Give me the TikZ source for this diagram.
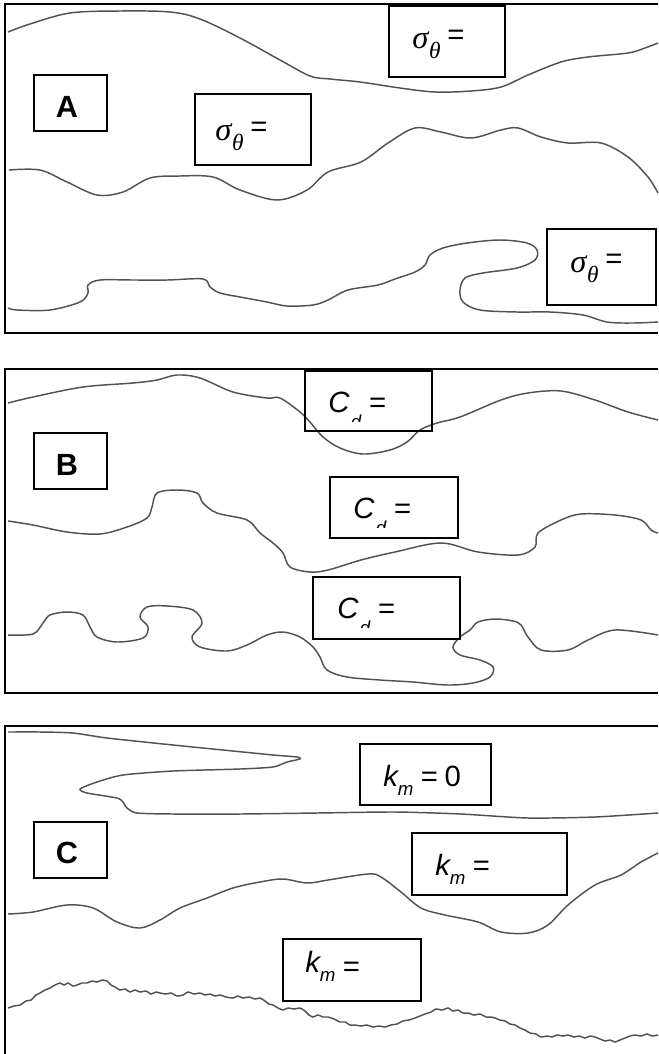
\documentclass[tikz,border=0pt]{standalone}
\usepackage{fontspec}
\setmainfont{Liberation Sans}
\newfontfamily\tms{Liberation Serif}
\newcommand\mySig{{\fontsize{24.5}{26}\selectfont\tms\itshape σ}\kern0.6pt\raisebox{-7.5pt}{\fontsize{17.5}{18}\selectfont\tms\itshape θ}\kern5pt\raisebox{2.5pt}{=}}
\newcommand\myCd{{\itshape C}\kern1pt\raisebox{-12pt}{\fontsize{14}{16}\selectfont\itshape d}\kern6pt=}
\newcommand\myKm{{\itshape k}\raisebox{-7pt}{\fontsize{14}{16}\selectfont\itshape m}\kern5.5pt}
\begin{document}
\begin{tikzpicture}[x=0.75pt,y=-0.75pt,
  frame/.style={line width=1.6pt, draw=black},
  box/.style={draw=black, line width=1.3pt, inner sep=0pt},
  curve/.style={draw=black!68, line width=1.1pt, smooth, tension=0.55},
  lbl/.style={anchor=base west, inner sep=0pt, font=\fontsize{22}{26}\selectfont},
  panel/.style={anchor=base, inner sep=0pt, font=\fontsize{23}{26}\selectfont\bfseries}]
\useasboundingbox (0,0) rectangle (658,1054);

% ---------------- Panel A ----------------
\draw[frame] (658,4) -- (5,4) -- (5,333) -- (658,333);
\draw[curve] plot coordinates {(8,32) (30,24) (70,13) (120,11) (170,12) (200,19) (240,38) (280,60) (310,76) (330,79) (360,82) (400,88) (435,92) (471,91) (501,87) (528,75) (561,62) (588,57) (628,53) (645,48) (658,43)};
\draw[curve] plot coordinates {(9,170) (40,170) (67,182) (97,195) (123,192) (150,178) (180,176) (213,177) (240,190) (277,200) (307,190) (328,172) (361,162) (388,143) (415,128) (441,132) (471,138) (501,130) (518,128) (541,137) (568,143) (601,143) (628,157) (648,177) (658,193)};
\draw[curve] plot coordinates {(8,308) (17,310) (50,310) (80,302) (88,293) (88,285) (100,280) (133,280) (167,280) (203,279) (210,287) (220,293) (240,297) (267,302) (287,306) (313,305) (328,300) (348,290) (378,285) (395,279) (415,272) (425,265) (430,255) (443,248) (467,243) (500,240) (527,243) (537,250) (535,260) (517,268) (483,273) (465,278) (460,290) (463,302) (480,310) (517,312) (550,312) (583,315) (607,322) (633,323) (658,322)};
\node[box, minimum width=54.75pt, minimum height=42pt] (boxA) at (70.5,103) {};
\node[panel] (labA) at (67,117) {A};
\node[box, minimum width=87pt, minimum height=53.25pt] (bs1) at (253,129.5) {};
\node[lbl] (ts1) at (215,140) {\mySig};
\node[box, minimum width=87pt, minimum height=53.25pt] (bs2) at (447,41.5) {};
\node[lbl] (ts2) at (412,48) {\mySig};
\node[box, minimum width=81.75pt, minimum height=57pt] (bs3) at (601.5,267) {};
\node[lbl] (ts3) at (570,272) {\mySig};

% ---------------- Panel B ----------------
\draw[frame] (658,369) -- (5,369) -- (5,693) -- (658,693);
\draw[curve] plot coordinates {(8,403) (33,397) (83,387) (133,383) (157,380) (177,375) (200,378) (233,392) (267,398) (280,398) (300,412) (310,422) (323,437) (340,448) (363,454) (390,450) (407,442) (420,430) (437,423) (460,417) (501,400) (528,393) (561,391) (595,400) (628,412) (658,420)};
\draw[curve] plot coordinates {(8,521) (33,525) (67,532) (100,534) (127,527) (147,518) (152,507) (157,493) (177,490) (197,493) (203,503) (217,513) (247,520) (260,533) (273,543) (283,553) (290,567) (310,572) (328,570) (361,560) (395,552) (441,543) (478,552) (518,555) (535,547) (538,533) (561,520) (581,514) (615,515) (641,520) (651,530) (658,533)};
\draw[curve] plot coordinates {(8,635) (33,634) (43,623) (50,615) (67,612) (83,615) (90,627) (97,637) (117,642) (143,638) (148,627) (140,617) (147,607) (167,606) (193,610) (202,623) (192,637) (200,647) (227,651) (247,645) (267,635) (283,632) (300,637) (313,647) (320,657) (327,670) (347,677) (380,680) (413,682) (447,685) (473,683) (490,677) (493,667) (480,660) (460,655) (453,647) (460,637) (470,630) (478,622) (495,619) (513,621) (521,625) (528,637) (541,650) (568,650) (588,640) (615,630) (658,635)};
\node[box, minimum width=54.75pt, minimum height=42pt] (boxB) at (70.5,461) {};
\node[panel] (labB) at (67,475) {B};
\node[box, minimum width=95.25pt, minimum height=45pt] (bc1) at (368.5,401) {};
\begin{scope}
  \clip (305,371) rectangle (432,421);
  \node[lbl] (tc1) at (328,412) {\myCd};
\end{scope}
\node[box, minimum width=96pt, minimum height=45.75pt] (bc2) at (394,507.5) {};
\begin{scope}
  \clip (330,477) rectangle (458,527);
  \node[lbl] (tc2) at (353,518) {\myCd};
\end{scope}
\node[box, minimum width=110.25pt, minimum height=46.5pt] (bc3) at (386.5,608) {};
\begin{scope}
  \clip (313,577) rectangle (460,627);
  \node[lbl] (tc3) at (337,618) {\myCd};
\end{scope}

% ---------------- Panel C ----------------
\draw[frame] (658,726) -- (5,726) -- (5,1054);
\draw[curve, tension=0.4] plot coordinates {(8,732) (40,732) (73,733) (107,738) (173,745) (223,750) (273,755) (297,757) (300,759) (287,762) (273,767) (240,769) (173,771) (123,775) (97,782) (80,789) (87,793) (117,798) (123,802) (127,808) (137,813) (173,814) (240,814) (317,813) (395,812) (461,814) (528,818) (595,817) (658,813)};
\draw[curve] plot coordinates {(8,914) (33,912) (67,905) (93,908) (117,922) (140,928) (160,920) (180,908) (207,898) (233,888) (260,882) (283,879) (307,883) (328,880) (368,874) (381,877) (401,892) (421,908) (445,915) (478,922) (501,932) (528,933) (548,925) (568,905) (595,885) (621,875) (641,862) (658,853)};
\draw[curve, tension=0.3] plot coordinates {(8,1008) (14,1006) (20,1005) (26,1001) (31,1000) (36,995) (40,993) (45,990) (50,988) (55,985) (60,983) (64,985) (68,983) (73,986) (77,985) (82,983) (87,983) (92,981) (97,982) (102,980) (107,981) (111,985) (115,987) (120,990) (125,989) (130,992) (135,990) (140,992) (146,991) (151,994) (156,992) (160,993) (166,994) (171,993) (177,996) (183,995) (188,992) (194,994) (200,993) (205,995) (210,994) (215,996) (220,995) (226,997) (233,998) (238,996) (243,998) (249,997) (255,999) (260,998) (265,1001) (269,1004) (273,1005) (278,1008) (283,1010) (288,1008) (294,1009) (300,1008) (305,1011) (309,1015) (313,1017) (318,1015) (323,1017) (328,1017) (334,1019) (340,1022) (345,1022) (350,1025) (355,1025) (361,1026) (367,1025) (373,1027) (379,1026) (385,1027) (391,1025) (397,1024) (403,1021) (409,1020) (415,1018) (420,1016) (425,1014) (431,1012) (436,1009) (442,1010) (448,1008) (453,1011) (458,1010) (463,1013) (468,1013) (474,1015) (480,1014) (486,1017) (491,1017) (495,1018) (500,1020) (505,1021) (510,1024) (515,1025) (520,1028) (525,1030) (530,1033) (536,1034) (541,1037) (547,1036) (552,1037) (557,1035) (563,1036) (568,1035) (574,1037) (579,1036) (585,1038) (590,1036) (595,1037) (600,1039) (605,1041) (610,1040) (615,1042) (620,1040) (625,1038) (630,1036) (635,1035) (641,1036) (647,1034) (652,1036) (658,1035)};
\node[box, minimum width=54.75pt, minimum height=42pt] (boxC) at (70.5,850) {};
\node[panel] (labC) at (67,863) {C};
\node[box, minimum width=98.25pt, minimum height=45.75pt] (bk1) at (425.5,774.5) {};
\node[lbl] (tk1) at (383,786) {\myKm=\kern5pt0};
\node[box, minimum width=116.25pt, minimum height=46.5pt] (bk2) at (489.5,864) {};
\node[lbl] (tk2) at (435,875) {\myKm=};
\node[box, minimum width=103.5pt, minimum height=46.5pt] (bk3) at (352,970) {};
\node[lbl] (tk3) at (305,972) {\myKm\raisebox{-3pt}{=}};
\end{tikzpicture}
\end{document}
